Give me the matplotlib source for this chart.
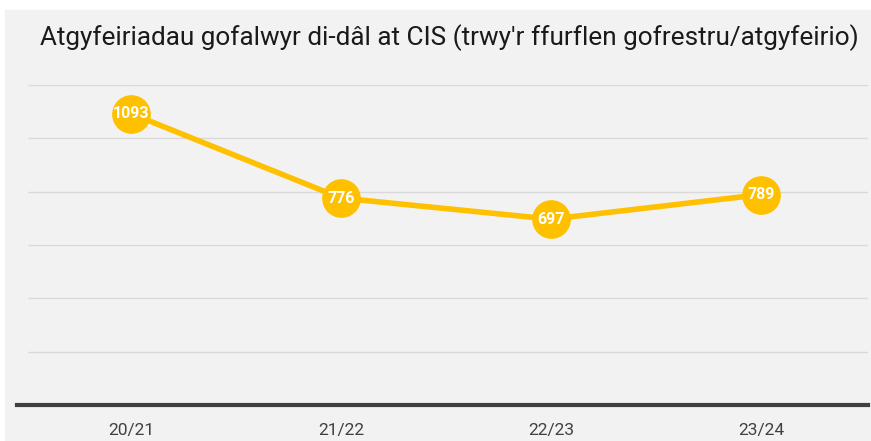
import matplotlib.pyplot as plt
from matplotlib.patches import Rectangle

# data
years = ["20/21", "21/22", "22/23", "23/24"]
referrals = [1093, 776, 697, 789]
grid_vals = [200, 400, 600, 800, 1000, 1200]

W, H = 871, 441
fig = plt.figure(figsize=(W / 100, H / 100), dpi=100, facecolor="white")

# light grey panel behind the chart
fig.patches.append(Rectangle((5 / W, 0), 1 - 5 / W, 1 - 10 / H,
                             transform=fig.transFigure, color="#f2f2f2", zorder=-1))

ax = fig.add_axes([17 / W, (H - 405) / H, (868 - 17) / W, (405 - 85) / H])
ax.set_facecolor("none")
ax.set_zorder(2)

x = list(range(len(years)))
ax.set_xlim(-114 / 210, (868 - 131) / 210)
ax.set_ylim(0, 1200)

ax.hlines(grid_vals, -0.49, (868 - 131) / 210, color="#d9d9d9", lw=1, zorder=1)
ax.axhline(0, color="#404040", lw=3, zorder=2, clip_on=False)

ax.plot(x, referrals, color="#ffc000", lw=4, zorder=3, solid_capstyle="round")
ax.scatter(x, referrals, s=720, color="#ffc000", zorder=4, clip_on=False)

fam = ["Roboto", "DejaVu Sans"]
for xi, v in zip(x, referrals):
    ax.text(xi, v, str(v), ha="center", va="center", color="white",
            fontsize=11.5, fontweight="bold", family=fam, zorder=5)

for s in ax.spines.values():
    s.set_visible(False)
ax.set_xticks(x)
ax.set_xticklabels(years, fontsize=12.5, color="#404040", family=fam)
ax.tick_params(axis="x", length=0, pad=13)
ax.set_yticks([])

fig.text(449 / W, 1 - 38 / H,
         "Atgyfeiriadau gofalwyr di-dâl at CIS (trwy'r ffurflen gofrestru/atgyfeirio)",
         ha="center", va="center", fontsize=18.8, color="#1a1a1a", family=fam)

fig.savefig("out.png", dpi=100, facecolor=fig.get_facecolor())
